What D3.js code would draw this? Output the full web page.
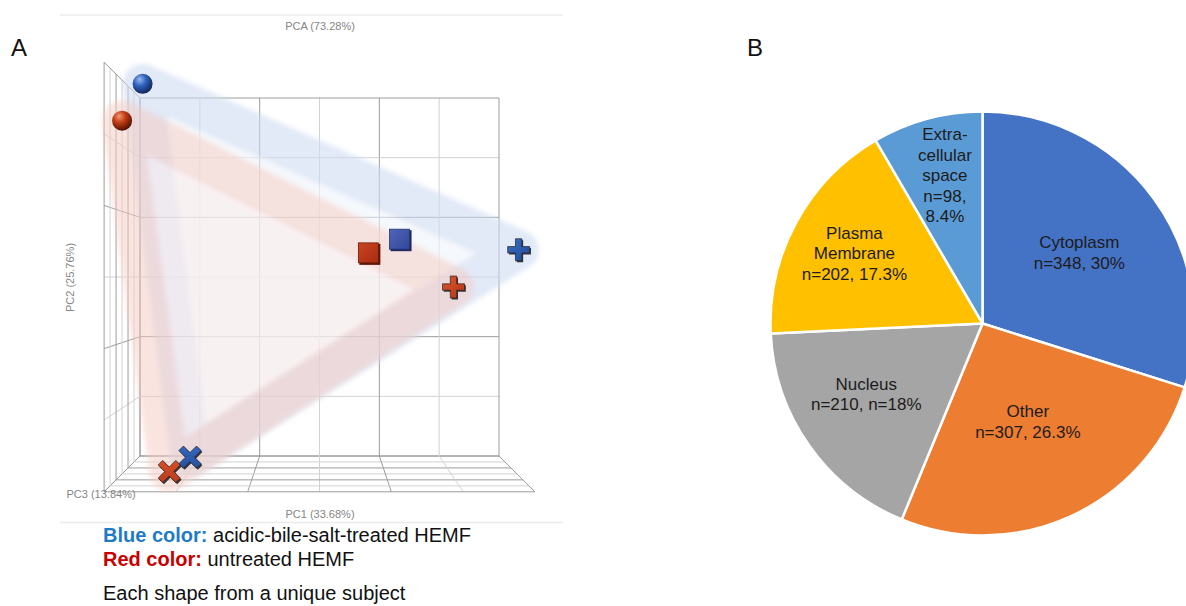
<!DOCTYPE html>
<html>
<head>
<meta charset="utf-8">
<script src="https://cdn.jsdelivr.net/npm/d3@7"></script>
<style>
  html, body { margin: 0; padding: 0; background: #ffffff; }
  svg { display: block; font-family: "Liberation Sans", Arial, Helvetica, sans-serif; }
</style>
</head>
<body>
<svg id="fig" width="1186" height="606"></svg>
<script>
// ---------- Panel A: PCA scores (arbitrary units), one shape per subject ----------
const subjectShapes = ["sphere", "cube", "plus", "cross"];
const treatedPC1   = [-26.4, 12.7, 29.2, -19.5];
const treatedPC2   = [ 28.9,  5.9,  4.0, -27.2];
const treatedPC3   = [  6,  -12,   12,     3  ];
const untreatedPC1 = [-28.2,  7.5, 20.0, -21.1];
const untreatedPC2 = [ 22.4,  3.6, -1.5, -27.4];
const untreatedPC3 = [ 21,    0,    6,    27  ];
const gridTicks = [-30, -20, -10, 0, 10, 20, 30];
const pcaTitle = "PCA (73.28%)";
const pc1Title = "PC1 (33.68%)";
const pc2Title = "PC2 (25.76%)";
const pc3Title = "PC3 (13.84%)";
const legendLines = [
  { key: "Blue color:", text: " acidic-bile-salt-treated HEMF", color: "#1f7bc6" },
  { key: "Red color:",  text: " untreated HEMF",                color: "#c80000" }
];
const footNote = "Each shape from a unique subject";

// ---------- Panel B: subcellular location of proteins ----------
const locations = ["Cytoplasm", "Other", "Nucleus", "Plasma Membrane", "Extracellular space"];
const locationCounts = [348, 307, 210, 202, 98];
const locationLabels = [
  ["Cytoplasm", "n=348, 30%"],
  ["Other", "n=307, 26.3%"],
  ["Nucleus", "n=210, n=18%"],
  ["Plasma", "Membrane", "n=202, 17.3%"],
  ["Extra-", "cellular", "space", "n=98,", "8.4%"]
];
const locationColors = ["#4472c4", "#ed7d31", "#a5a5a5", "#ffc000", "#5b9bd5"];

const svg = d3.select("#fig");
const defs = svg.append("defs");

// ===================== Panel A =====================
const gA = svg.append("g");

// faint frame lines of the embedded plot window
gA.append("line").attr("x1", 60).attr("x2", 563).attr("y1", 15).attr("y2", 15)
  .attr("stroke", "#ececec").attr("stroke-width", 1.5);
gA.append("line").attr("x1", 60).attr("x2", 563).attr("y1", 522.5).attr("y2", 522.5)
  .attr("stroke", "#ececec").attr("stroke-width", 1.5);

// back wall scales + depth scale (simple perspective toward the box centre)
const xBack = d3.scaleLinear().domain([-30, 30]).range([140, 499]);
const yBack = d3.scaleLinear().domain([-30, 30]).range([456, 98]);
const depth = d3.scaleLinear().domain([-30, 30]).range([1, 1.2]);
const cx3 = (xBack.range()[0] + xBack.range()[1]) / 2;
const cy3 = (yBack.range()[0] + yBack.range()[1]) / 2;
function project(p1, p2, p3) {
  const s = depth(p3);
  return [cx3 + (xBack(p1) - cx3) * s, cy3 + (yBack(p2) - cy3) * s];
}
const lo = gridTicks[0], hi = gridTicks[gridTicks.length - 1];
const isMajor = t => Math.abs(t) % 20 === 10;

const gridSegs = [];
gridTicks.forEach(t => {
  // back wall
  gridSegs.push({ a: project(t, lo, lo), b: project(t, hi, lo), major: isMajor(t) });
  gridSegs.push({ a: project(lo, t, lo), b: project(hi, t, lo), major: isMajor(t) });
  // floor
  gridSegs.push({ a: project(t, lo, lo), b: project(t, lo, hi), major: isMajor(t) });
  gridSegs.push({ a: project(lo, lo, t), b: project(hi, lo, t), major: isMajor(t) });
  // left wall
  gridSegs.push({ a: project(lo, t, lo), b: project(lo, t, hi), major: isMajor(t) });
  gridSegs.push({ a: project(lo, lo, t), b: project(lo, hi, t), major: isMajor(t) });
});
gA.append("g").selectAll("line").data(gridSegs).join("line")
  .attr("x1", d => d.a[0]).attr("y1", d => d.a[1])
  .attr("x2", d => d.b[0]).attr("y2", d => d.b[1])
  .attr("stroke", d => d.major ? "#9c9c9c" : "#d2d2d2")
  .attr("stroke-width", 1);

// group points
function groupPoints(pc1, pc2, pc3) {
  return pc1.map((v, i) => ({ shape: subjectShapes[i], xy: project(v, pc2[i], pc3[i]) }));
}
const treated = groupPoints(treatedPC1, treatedPC2, treatedPC3);
const untreated = groupPoints(untreatedPC1, untreatedPC2, untreatedPC3);

// soft rounded hulls around each group
const soft = defs.append("filter").attr("id", "soft").attr("x", "-20%").attr("y", "-20%")
  .attr("width", "140%").attr("height", "140%");
soft.append("feGaussianBlur").attr("stdDeviation", 2.8);

function drawHull(pts, fill, edge, opacity) {
  const hull = d3.polygonHull(pts.map(p => p.xy));
  const g = gA.append("g").attr("opacity", opacity).attr("filter", "url(#soft)");
  g.append("path").attr("d", "M" + hull.join("L") + "Z")
    .attr("fill", fill).attr("stroke", edge).attr("stroke-width", 40)
    .attr("stroke-linejoin", "round");
}
drawHull(treated, "#f0f4fb", "#cfdbf2", 0.6);
drawHull(untreated, "#fcecea", "#f5cbc1", 0.5);

// marker gradients
function sphereGrad(id, light, base, dark) {
  const g = defs.append("radialGradient").attr("id", id)
    .attr("cx", "38%").attr("cy", "32%").attr("r", "70%").attr("fx", "35%").attr("fy", "28%");
  g.append("stop").attr("offset", "0%").attr("stop-color", light);
  g.append("stop").attr("offset", "45%").attr("stop-color", base);
  g.append("stop").attr("offset", "100%").attr("stop-color", dark);
}
function faceGrad(id, light, dark) {
  const g = defs.append("linearGradient").attr("id", id)
    .attr("x1", "0%").attr("y1", "0%").attr("x2", "100%").attr("y2", "100%");
  g.append("stop").attr("offset", "0%").attr("stop-color", light);
  g.append("stop").attr("offset", "100%").attr("stop-color", dark);
}
sphereGrad("sphB", "#9ab8ee", "#2f62bd", "#0e2454");
sphereGrad("sphR", "#f39a78", "#c23b14", "#4e1204");
faceGrad("faceB", "#4d66b8", "#34479a");
faceGrad("faceR", "#c8431f", "#a82c12");
faceGrad("armB", "#3a6ec6", "#214a98");
faceGrad("armR", "#dc5529", "#b4361a");

const plusPath = (L, t) =>
  `M${-t},${-L}H${t}V${-t}H${L}V${t}H${t}V${L}H${-t}V${t}H${-L}V${-t}H${-t}Z`;

function drawMarkers(pts, tone) {
  const g = gA.append("g");
  pts.forEach(p => {
    const [x, y] = p.xy;
    const m = g.append("g").attr("transform", `translate(${x},${y})`);
    if (p.shape === "sphere") {
      m.append("circle").attr("r", 10).attr("fill", `url(#sph${tone})`);
    } else if (p.shape === "cube") {
      m.append("rect").attr("x", -9.5).attr("y", -9.5).attr("width", 21).attr("height", 21)
        .attr("fill", tone === "B" ? "#1d2a66" : "#5e1607");
      m.append("rect").attr("x", -10.5).attr("y", -10.5).attr("width", 20).attr("height", 20)
        .attr("fill", `url(#face${tone})`)
        .attr("stroke", tone === "B" ? "#27336e" : "#6d1a08").attr("stroke-width", 0.8);
    } else {
      const rot = p.shape === "cross" ? 45 : 0;
      const L = p.shape === "cross" ? 12.5 : 11;
      m.append("path").attr("d", plusPath(L, 3.2))
        .attr("transform", `translate(1.3,1.5) rotate(${rot})`)
        .attr("fill", "#1a1a1a").attr("opacity", 0.85);
      m.append("path").attr("d", plusPath(L, 3.2)).attr("transform", `rotate(${rot})`)
        .attr("fill", `url(#arm${tone})`)
        .attr("stroke", "#222").attr("stroke-width", 0.7);
    }
  });
}
drawMarkers(untreated, "R");
drawMarkers(treated, "B");

// axis titles
const axisText = { "font-size": "11px", fill: "#858585" };
function addText(g, txt, attrs) {
  const t = g.append("text").text(txt);
  Object.entries(Object.assign({}, axisText, attrs)).forEach(([k, v]) => t.attr(k, v));
  return t;
}
addText(gA, pcaTitle, { x: 320, y: 30, "text-anchor": "middle" });
addText(gA, pc1Title, { x: 320, y: 518, "text-anchor": "middle" });
addText(gA, pc3Title, { x: 66.5, y: 498, "text-anchor": "start" });
addText(gA, pc2Title, { transform: "translate(74,277.5) rotate(-90)", "text-anchor": "middle" });

// panel letters
svg.append("text").attr("x", 11).attr("y", 56).attr("font-size", "24px").attr("fill", "#111").text("A");
svg.append("text").attr("x", 747).attr("y", 56).attr("font-size", "24px").attr("fill", "#111").text("B");

// legend
const legY = [542, 566];
legendLines.forEach((d, i) => {
  const t = svg.append("text").attr("x", 103).attr("y", legY[i]).attr("font-size", "20px").attr("fill", "#111");
  t.append("tspan").attr("font-weight", "bold").attr("fill", d.color).text(d.key);
  t.append("tspan").text(d.text);
});
svg.append("text").attr("x", 103).attr("y", 600).attr("font-size", "20px").attr("fill", "#111").text(footNote);

// ===================== Panel B =====================
const pieCx = 982.5, pieCy = 323.5, pieR = 212;
const gB = svg.append("g").attr("transform", `translate(${pieCx},${pieCy})`);
const slices = d3.pie().sort(null).value(d => d)(locationCounts);
const arc = d3.arc().innerRadius(0).outerRadius(pieR);
gB.selectAll("path").data(slices).join("path")
  .attr("d", arc)
  .attr("fill", (d, i) => locationColors[i])
  .attr("stroke", "#ffffff").attr("stroke-width", 2.5).attr("stroke-linejoin", "round");

// label placement: distance from centre and small angular nudge per slice
const labelPlace = {
  "Cytoplasm": [120, 0],
  "Other": [108, 0.2],
  "Nucleus": [136, 3.9],
  "Plasma Membrane": [146, 0.2],
  "Extracellular space": [153, 0.9]
};
const lineH = 20.5;
slices.forEach((d, i) => {
  const [r, nudge] = labelPlace[locations[i]];
  const a = (d.startAngle + d.endAngle) / 2 + nudge * Math.PI / 180;
  const x = r * Math.sin(a), y = -r * Math.cos(a);
  const lines = locationLabels[i];
  const y0 = y - (lines.length - 1) * lineH / 2 + 6;
  const t = gB.append("text").attr("text-anchor", "middle").attr("font-size", "17px").attr("fill", "#1c1c1c");
  lines.forEach((ln, j) => t.append("tspan").attr("x", x).attr("y", y0 + j * lineH).text(ln));
});
</script>
</body>
</html>
